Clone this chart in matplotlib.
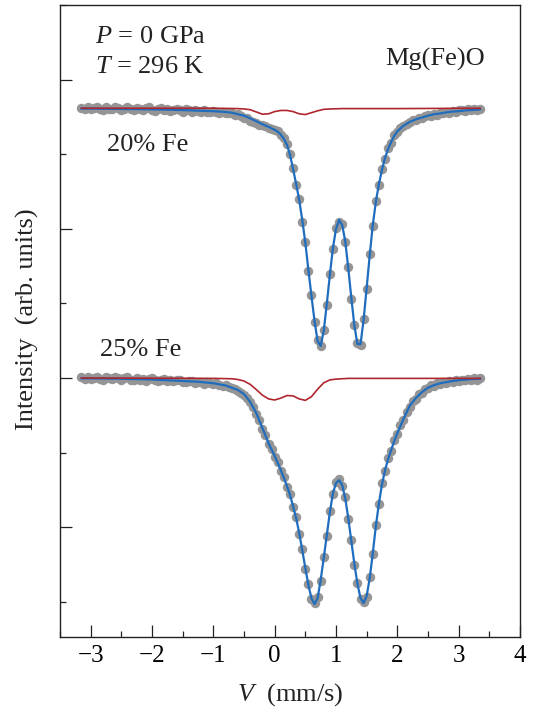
import numpy as np
import matplotlib.pyplot as plt
from matplotlib.ticker import MultipleLocator, NullFormatter

plt.rcParams['font.family'] = 'Liberation Serif'
plt.rcParams['mathtext.fontset'] = 'custom'
plt.rcParams['mathtext.rm'] = 'Liberation Serif'
plt.rcParams['mathtext.it'] = 'Liberation Serif:italic'

# velocity channels of the measured spectra (mm/s)
velocity = np.round(np.linspace(-3.15, 3.35, 131), 2)

# measured transmission, normalised to 100 off resonance
counts_20 = [
    100.00, 99.97, 100.02, 99.96, 99.99, 100.03, 99.97, 99.95, 100.01, 99.98,
    99.96, 100.02, 99.99, 99.94, 99.98, 100.02, 99.97, 99.95, 100.00, 99.96,
    99.93, 99.99, 100.01, 99.95, 99.92, 99.97, 100.00, 99.94, 99.96, 99.91,
    99.95, 99.98, 99.93, 99.90, 99.96, 99.94, 99.90, 99.95, 99.92, 99.89,
    99.93, 99.90, 99.88, 99.92, 99.89, 99.86, 99.90, 99.87, 99.85, 99.86,
    99.82, 99.84, 99.78, 99.74, 99.72, 99.66, 99.62, 99.60, 99.53, 99.55,
    99.51, 99.47, 99.43, 99.40, 99.37, 99.26, 99.18, 99.02, 98.75, 98.38,
    97.93, 97.55, 96.95, 96.40, 95.62, 94.98, 94.25, 93.77, 93.60, 94.03,
    94.70, 95.55, 96.20, 96.78, 96.95, 96.88, 96.40, 95.73, 94.86, 94.18,
    93.68, 93.63, 94.33, 95.14, 96.08, 96.83, 97.50, 97.93, 98.36, 98.64,
    98.92, 99.07, 99.27, 99.35, 99.46, 99.50, 99.58, 99.61, 99.67, 99.68,
    99.73, 99.72, 99.78, 99.80, 99.79, 99.84, 99.82, 99.87, 99.85, 99.89,
    99.87, 99.92, 99.90, 99.93, 99.95, 99.91, 99.96, 99.94, 99.97, 99.95,
    99.98,
]
counts_25 = [
    100.02, 99.98, 100.03, 99.97, 100.00, 100.04, 99.98, 99.96, 100.02, 99.99,
    99.97, 100.03, 99.99, 99.95, 99.99, 100.02, 99.96, 99.94, 99.99, 99.96,
    99.98, 99.93, 99.97, 100.00, 99.94, 99.92, 99.96, 99.98, 99.92, 99.95,
    99.91, 99.94, 99.96, 99.90, 99.88, 99.93, 99.91, 99.87, 99.90, 99.88,
    99.85, 99.89, 99.86, 99.83, 99.86, 99.81, 99.78, 99.81, 99.76, 99.73,
    99.70, 99.66, 99.61, 99.55, 99.46, 99.35, 99.22, 99.04, 98.88, 98.64,
    98.48, 98.22, 98.10, 97.88, 97.74, 97.50, 97.34, 97.08, 96.88, 96.53,
    96.27, 95.81, 95.40, 94.87, 94.46, 94.06, 93.95, 94.12, 94.55, 95.20,
    95.75, 96.43, 96.88, 97.20, 97.28, 97.10, 96.80, 96.21, 95.65, 94.98,
    94.50, 94.06, 93.98, 94.12, 94.66, 95.27, 96.06, 96.61, 97.18, 97.50,
    97.86, 98.05, 98.33, 98.50, 98.73, 98.88, 99.10, 99.23, 99.38, 99.44,
    99.56, 99.60, 99.70, 99.72, 99.80, 99.79, 99.86, 99.84, 99.90, 99.87,
    99.93, 99.90, 99.95, 99.92, 99.96, 99.94, 99.98, 99.95, 99.99, 99.96,
    100.00,
]

# total fit (blue)
fit_v20 = [-3.15, -3.0, -2.5, -2.0, -1.5, -1.0, -0.8, -0.7, -0.6, -0.5, -0.4,
           -0.3, -0.2, -0.1, 0.0, 0.05, 0.1, 0.15, 0.2, 0.25, 0.3, 0.35, 0.4,
           0.45, 0.5, 0.55, 0.6, 0.65, 0.7, 0.75, 0.8, 0.85, 0.9, 0.95, 1.0,
           1.05, 1.1, 1.15, 1.2, 1.25, 1.3, 1.35, 1.4, 1.45, 1.5, 1.55, 1.6,
           1.65, 1.7, 1.75, 1.8, 1.85, 1.9, 1.95, 2.0, 2.1, 2.2, 2.3, 2.4,
           2.5, 2.6, 2.7, 2.8, 2.9, 3.0, 3.1, 3.2, 3.3, 3.35]
fit_20 = [99.98, 99.98, 99.97, 99.96, 99.94, 99.91, 99.89, 99.87, 99.83, 99.79,
          99.72, 99.64, 99.56, 99.49, 99.41, 99.36, 99.28, 99.17, 99.01, 98.74,
          98.36, 97.96, 97.53, 96.99, 96.38, 95.65, 94.95, 94.28, 93.74, 93.61,
          94.01, 94.74, 95.52, 96.24, 96.75, 96.99, 96.86, 96.43, 95.70, 94.90,
          94.15, 93.66, 93.66, 94.31, 95.17, 96.05, 96.86, 97.48, 97.96, 98.34,
          98.66, 98.90, 99.09, 99.25, 99.37, 99.52, 99.62, 99.69, 99.74, 99.79,
          99.83, 99.85, 99.88, 99.90, 99.91, 99.93, 99.94, 99.95, 99.96]

fit_v25 = [-3.15, -3.0, -2.5, -2.0, -1.5, -1.25, -1.0, -0.8, -0.7, -0.6, -0.5,
           -0.4, -0.3, -0.2, -0.1, 0.0, 0.05, 0.1, 0.15, 0.2, 0.25, 0.3, 0.35,
           0.4, 0.45, 0.5, 0.55, 0.6, 0.65, 0.7, 0.75, 0.8, 0.85, 0.9, 0.95,
           1.0, 1.05, 1.1, 1.15, 1.2, 1.25, 1.3, 1.35, 1.4, 1.45, 1.5, 1.55,
           1.6, 1.65, 1.7, 1.75, 1.8, 1.85, 1.9, 1.95, 2.0, 2.1, 2.2, 2.3,
           2.4, 2.5, 2.6, 2.7, 2.8, 2.9, 3.0, 3.2, 3.35]
fit_25 = [99.99, 99.99, 99.98, 99.96, 99.92, 99.90, 99.86, 99.80, 99.74, 99.68,
          99.57, 99.36, 99.06, 98.66, 98.25, 97.91, 97.72, 97.53, 97.32, 97.10,
          96.86, 96.56, 96.24, 95.84, 95.38, 94.90, 94.44, 94.09, 93.93, 94.09,
          94.58, 95.17, 95.78, 96.40, 96.91, 97.18, 97.26, 97.13, 96.78, 96.24,
          95.62, 95.01, 94.47, 94.09, 93.96, 94.15, 94.63, 95.30, 96.03, 96.64,
          97.15, 97.53, 97.83, 98.07, 98.31, 98.52, 98.90, 99.25, 99.46, 99.62,
          99.74, 99.81, 99.86, 99.89, 99.92, 99.94, 99.97, 99.98]

# minor (Fe3+) subspectrum (red)
sub_v20 = [-3.15, -1.0, -0.6, -0.5, -0.4, -0.3, -0.2, -0.1, 0.0, 0.1, 0.2,
           0.3, 0.4, 0.5, 0.6, 0.7, 0.8, 0.9, 1.1, 2.0, 3.35]
sub_20 = [99.99, 99.99, 99.98, 99.97, 99.95, 99.89, 99.83, 99.84, 99.90, 99.93,
          99.93, 99.90, 99.84, 99.82, 99.87, 99.92, 99.96, 99.97, 99.98, 99.98,
          99.99]
sub_v25 = [-3.15, -1.0, -0.7, -0.6, -0.5, -0.4, -0.3, -0.2, -0.1, 0.0, 0.1,
           0.2, 0.3, 0.4, 0.5, 0.6, 0.7, 0.8, 0.9, 1.0, 1.2, 3.35]
sub_25 = [100.00, 99.99, 99.98, 99.96, 99.92, 99.83, 99.69, 99.54, 99.44, 99.41,
          99.46, 99.53, 99.52, 99.44, 99.40, 99.50, 99.70, 99.87, 99.95, 99.97,
          99.99, 99.99]

offset_20 = 7.25
offset_25 = 0.0

fig = plt.figure(figsize=(5.33, 7.08), dpi=100)
ax = fig.add_axes([60 / 533, 1 - 637 / 708, 460 / 533, 632 / 708])

for v_fit, fit, v_sub, sub, counts, off in [
        (fit_v20, fit_20, sub_v20, sub_20, counts_20, offset_20),
        (fit_v25, fit_25, sub_v25, sub_25, counts_25, offset_25)]:
    ax.plot(velocity, np.array(counts) + off, 'o', ms=6.8, color='#959595',
            mec='none', zorder=2)
    ax.plot(v_fit, np.array(fit) + off, color='#1f6dbf', lw=1.6, zorder=3)
    ax.plot(v_sub, np.array(sub) + off, color='#b0262f', lw=1.2, zorder=4)

ax.set_xlim(-3.5, 4.0)
ax.set_ylim(93.05, 110.01)
ax.xaxis.set_major_locator(MultipleLocator(1))
ax.xaxis.set_minor_locator(MultipleLocator(0.5))
ax.yaxis.set_major_locator(MultipleLocator(4))
ax.yaxis.set_minor_locator(MultipleLocator(2))
ax.yaxis.set_major_formatter(NullFormatter())
ax.tick_params(which='both', direction='in', top=False, right=False,
               labelsize=18, width=0.9, color='#222222')
ax.tick_params(which='major', length=8.5, pad=6)
ax.tick_params(which='minor', length=4.5)
for s in ax.spines.values():
    s.set_linewidth(1.0)
    s.set_color('#222222')

txt = dict(fontsize=19, color='#222222', transform=ax.transAxes, va='baseline')
ax.text((95 - 60) / 460, (637 - 43) / 632, '$P$ = 0 GPa', **txt)
ax.text((95 - 60) / 460, (637 - 73) / 632, '$T$ = 296 K', **txt)
ax.text((385 - 60) / 460, (637 - 66) / 632, 'Mg(Fe)O', **txt)
ax.text((107 - 60) / 460, (637 - 151) / 632, '20% Fe', **txt)
ax.text((100 - 60) / 460, (637 - 356) / 632, '25% Fe', **txt)

fig.text(290 / 533, 1 - 701 / 708, '$V$  (mm/s)', fontsize=19,
         color='#222222', ha='center', va='baseline')
fig.text(27 / 533, 1 - 319 / 708, 'Intensity  (arb. units)', fontsize=19,
         color='#222222', ha='center', va='center', rotation=90)

fig.savefig('out.png', dpi=100)
